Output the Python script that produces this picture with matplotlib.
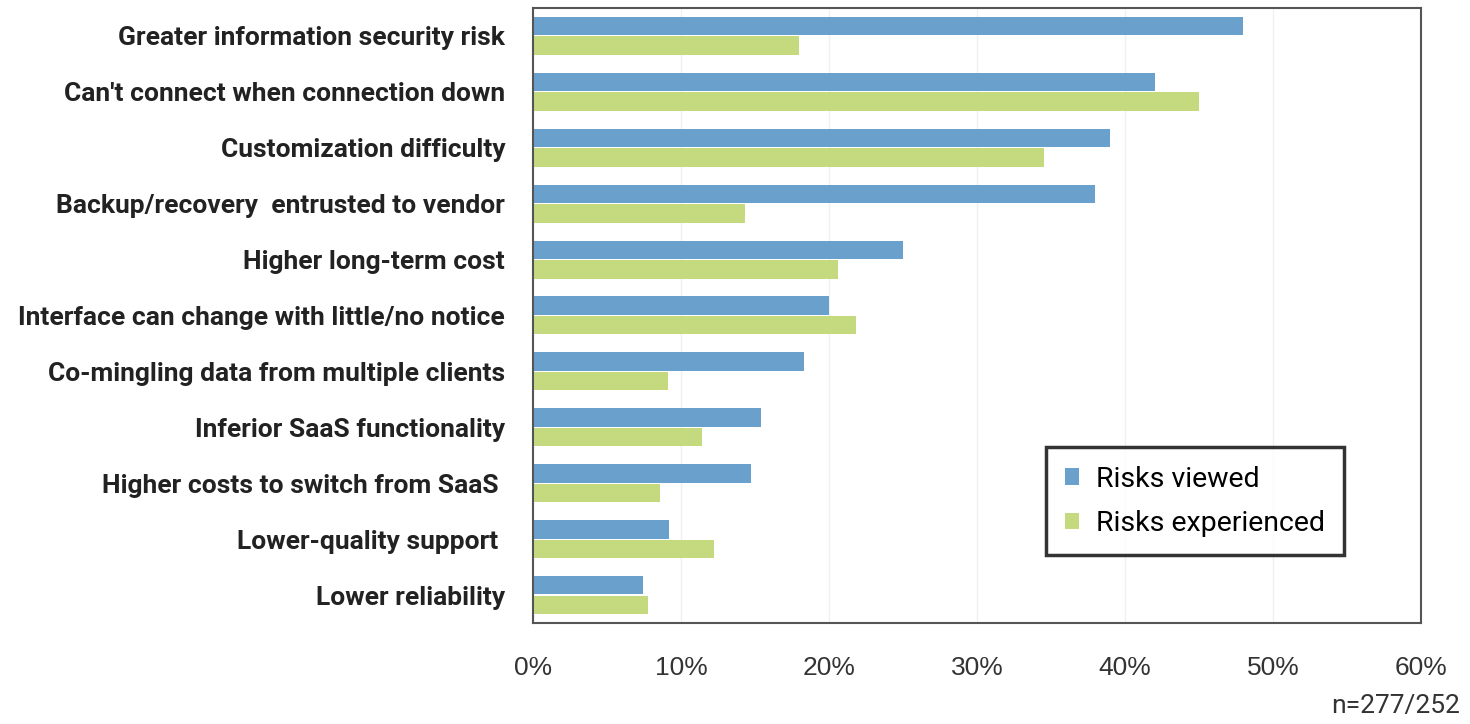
import numpy as np
import matplotlib
matplotlib.use('Agg')
import matplotlib.pyplot as plt
from matplotlib.ticker import FuncFormatter

# Survey data (percent of respondents)
categories = ["Greater information security risk",
              "Can't connect when connection down",
              "Customization difficulty",
              "Backup/recovery  entrusted to vendor",
              "Higher long-term cost",
              "Interface can change with little/no notice",
              "Co-mingling data from multiple clients",
              "Inferior SaaS functionality",
              "Higher costs to switch from SaaS ",
              "Lower-quality support ",
              "Lower reliability"]
risks_viewed = [48, 42, 39, 38, 25, 20, 18.3, 15.4, 14.7, 9.2, 7.4]
risks_experienced = [18, 45, 34.5, 14.3, 20.6, 21.8, 9.1, 11.4, 8.6, 12.2, 7.8]
xticks = [0, 10, 20, 30, 40, 50, 60]

blue = '#6aa0cc'
green = '#c5da7f'
label_font = ['Roboto', 'DejaVu Sans']

fig = plt.figure(figsize=(14.7, 7.24), dpi=100)
ax = fig.add_axes([0.3626, 0.1395, 0.6041, 0.8495])

y = np.arange(len(categories))
h = 0.33
ax.barh(y - h / 2 - 0.01, risks_viewed, height=h, color=blue, label='Risks viewed')
ax.barh(y + h / 2 + 0.01, risks_experienced, height=h, color=green, label='Risks experienced')

ax.set_ylim(len(categories) - 0.5, -0.5)
ax.set_xlim(0, 60)
ax.set_xticks(xticks)
ax.xaxis.set_major_formatter(FuncFormatter(lambda v, p: '%d%%' % v))
ax.grid(axis='x', color='#f0f0f0', linewidth=1)
ax.set_axisbelow(True)

ax.set_yticks(y)
ax.set_yticklabels(categories, fontsize=19, fontweight='bold',
                   family=label_font, color='#222222')
ax.tick_params(axis='y', length=0, pad=20)
ax.tick_params(axis='x', length=0, pad=24, labelsize=19, labelcolor='#333333')
for lbl in ax.get_xticklabels():
    lbl.set_family(['Liberation Sans', 'DejaVu Sans'])

for s in ax.spines.values():
    s.set_color('#555555')
    s.set_linewidth(1.5)

leg = ax.legend(loc='lower right', bbox_to_anchor=(0.929, 0.087),
                frameon=True, fancybox=False, handlelength=0.5, handleheight=0.5,
                borderpad=0.65, labelspacing=0.6, handletextpad=0.6,
                prop={'family': label_font, 'size': 20.5})
leg.get_frame().set_edgecolor('black')
leg.get_frame().set_linewidth(2.5)

fig.text(0.993, 0.008, 'n=277/252', ha='right', va='bottom', fontsize=19,
         family=label_font, color='#333333')

fig.savefig('out.png', dpi=100)
